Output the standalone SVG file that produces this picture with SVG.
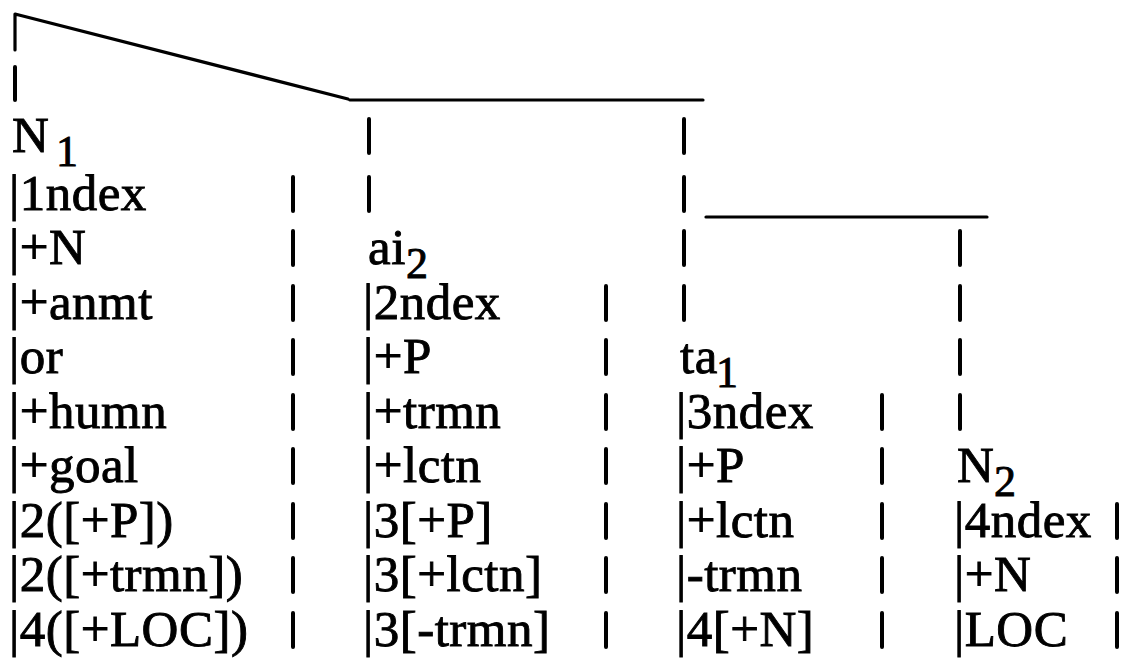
<svg xmlns="http://www.w3.org/2000/svg" width="1124" height="659" viewBox="0 0 1124 659">
<style>
text{font-family:"Liberation Serif","Times New Roman",serif;font-size:51px;letter-spacing:0.5px;fill:#000;stroke:#000;stroke-width:0.9px}
tspan.sub{font-size:44px}
.ln{fill:none;stroke:#000;stroke-width:3.2;stroke-linecap:round;stroke-linejoin:round}
.bar{fill:none;stroke:#000;stroke-width:4;stroke-linecap:round}
</style>
<rect width="1124" height="659" fill="#fff"/>
<g id="connectors">
<path class="ln" d="M15,50 V14 L348,99"/>
<path class="ln" d="M350,100 H703"/>
<path class="ln" d="M706,217 H987"/>
<path class="bar" d="M15,67 V100 M369,119 V153 M369,177 V211 M684,119 V153 M684,177 V211 M684,231 V265 M684,286 V320 M960,231 V265 M960,286 V320 M960,340 V374 M960,395 V429"/>
<path class="bar" d="M293,177 V211 M293,231 V265 M293,286 V320 M293,340 V374 M293,395 V429 M293,449 V483 M293,504 V538 M293,558 V592 M293,613 V647"/>
<path class="bar" d="M606,286 V320 M606,340 V374 M606,395 V429 M606,449 V483 M606,504 V538 M606,558 V592 M606,613 V647"/>
<path class="bar" d="M882,395 V429 M882,449 V483 M882,504 V538 M882,558 V592 M882,613 V647"/>
<path class="bar" d="M1117,504 V538 M1117,558 V592 M1117,613 V647"/>
</g>
<g id="node-N1">
<text x="12" y="152">N<tspan class="sub" x="56" y="166">1</tspan></text>
<text x="9" y="210">|1ndex</text>
<text x="9" y="264">|+N</text>
<text x="9" y="319">|+anmt</text>
<text x="9" y="373">|or</text>
<text x="9" y="428">|+humn</text>
<text x="9" y="482">|+goal</text>
<text x="9" y="537">|2([+P])</text>
<text x="9" y="591">|2([+trmn])</text>
<text x="9" y="646">|4([+LOC])</text>
</g>
<g id="node-ai2">
<text x="368" y="264">ai<tspan class="sub" x="406" y="278">2</tspan></text>
<text x="363" y="319">|2ndex</text>
<text x="363" y="373">|+P</text>
<text x="363" y="428">|+trmn</text>
<text x="363" y="482">|+lctn</text>
<text x="363" y="537">|3[+P]</text>
<text x="363" y="591">|3[+lctn]</text>
<text x="363" y="646">|3[-trmn]</text>
</g>
<g id="node-ta1">
<text x="680" y="373">ta<tspan class="sub" x="716" y="387">1</tspan></text>
<text x="676" y="428">|3ndex</text>
<text x="676" y="482">|+P</text>
<text x="676" y="537">|+lctn</text>
<text x="676" y="591">|-trmn</text>
<text x="676" y="646">|4[+N]</text>
</g>
<g id="node-N2">
<text x="957" y="482">N<tspan class="sub" x="994" y="496">2</tspan></text>
<text x="954" y="537">|4ndex</text>
<text x="954" y="591">|+N</text>
<text x="954" y="646">|LOC</text>
</g>
</svg>
